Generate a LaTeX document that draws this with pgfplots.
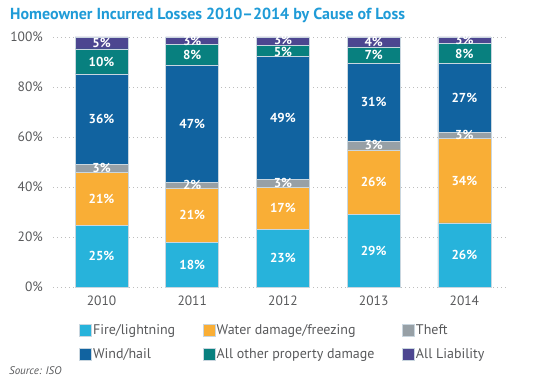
\documentclass[border=0pt]{standalone}
\usepackage{fontspec}
\setmainfont{PT Sans}
\usepackage{pgfplots}
\usepackage{pgfplotstable}
\pgfplotsset{compat=1.18}

\definecolor{cfire}{HTML}{27B3DB}
\definecolor{cwater}{HTML}{F9AE36}
\definecolor{ctheft}{HTML}{97A0A6}
\definecolor{cwind}{HTML}{1163A0}
\definecolor{cother}{HTML}{08807F}
\definecolor{cliab}{HTML}{4C4690}
\definecolor{ctitle}{HTML}{1F9BD7}
\definecolor{ctext}{HTML}{58595B}
\definecolor{cbarline}{HTML}{C9D6DF}
\definecolor{cgrid}{HTML}{BDBDBD}

\pgfplotstableread{
x fire water theft wind other liab
0 24.7 21.3 3.2 36.0 10.0 4.8
1 18.0 21.7 2.3 46.8 8.2 3.0
2 23.0 17.0 3.1 49.0 4.5 3.4
3 29.0 25.9 3.5 30.9 6.7 4.0
4 25.7 33.8 2.4 27.5 7.9 2.7
}\losses

\pgfplotstableread{
x y v
0 12.35 25
0 35.35 21
0 47.6 3
0 67.2 36
0 90.2 10
0 97.6 5
1 9.0 18
1 28.85 21
1 40.85 2
1 65.4 47
1 92.9 8
1 98.5 3
2 11.5 23
2 31.5 17
2 41.55 3
2 67.6 49
2 93.9 5
2 98.9 3
3 14.5 29
3 41.95 26
3 56.65 3
3 73.85 31
3 92.65 7
3 98.0 4
4 12.85 26
4 42.6 34
4 60.7 3
4 75.65 27
4 93.2 8
4 98.65 3
}\labels

\begin{document}
\begin{tikzpicture}
\path[use as bounding box] (-53pt,-99pt) rectangle (486pt,287pt);
\node[anchor=base west, inner sep=0pt, text=ctitle, font=\fontsize{16}{18}\selectfont\bfseries] at (-43pt,267pt) {Homeowner Incurred Losses 2010–2014 by Cause of Loss};
\begin{axis}[
  at={(0pt,0pt)}, anchor=south west,
  scale only axis, width=454pt, height=250pt,
  ybar stacked, bar width=53pt,
  xmin=-0.535, xmax=4.47, ymin=0, ymax=100,
  xtick={0,1,2,3,4}, xticklabels={2010,2011,2012,2013,2014},
  ytick={0,20,40,60,80,100}, yticklabel={\pgfmathprintnumber{\tick}\%},
  /pgf/number format/assume math mode=true,
  ymajorgrids, grid style={cgrid, line width=0.6pt, dash pattern=on 1pt off 3pt},
  axis line style={draw=none}, tick style={draw=none}, major tick length=0pt,
  ticklabel style={font=\fontsize{13.5}{15}\selectfont, text=ctext},
  yticklabel style={inner sep=0pt, xshift=-10pt},
  xticklabel style={inner sep=0pt, yshift=-9pt},
  every axis plot/.append style={draw=cbarline, line width=0.5pt},
  legend columns=3,
  legend image code/.code={\fill[#1] (0pt,-6pt) rectangle (12pt,6pt);},
  legend style={at={(0.057,-0.145)}, anchor=north west, draw=none, fill=none,
    font=\fontsize{14}{16}\selectfont, text=ctext, inner sep=0pt,
    nodes={inner sep=1.5pt}, row sep=9pt,
    /tikz/every even column/.append style={column sep=26pt}},
  legend cell align=left,
]
\addplot[fill=cfire] table[x=x,y=fire]{\losses};
\addplot[fill=cwater] table[x=x,y=water]{\losses};
\addplot[fill=ctheft] table[x=x,y=theft]{\losses};
\addplot[fill=cwind] table[x=x,y=wind]{\losses};
\addplot[fill=cother] table[x=x,y=other]{\losses};
\addplot[fill=cliab] table[x=x,y=liab]{\losses};
\legend{Fire/lightning, Water damage/freezing, Theft, Wind/hail, All other property damage, All Liability}
\end{axis}
\begin{axis}[
  at={(0pt,0pt)}, anchor=south west,
  scale only axis, width=454pt, height=250pt,
  xmin=-0.535, xmax=4.47, ymin=0, ymax=100,
  hide axis,
  /pgf/number format/assume math mode=true,
]
\addplot[draw=none, mark=none, nodes near coords={\pgfmathprintnumber[fixed,precision=0,assume math mode=true]{\pgfplotspointmeta}\%},
  point meta=explicit,
  every node near coord/.append style={anchor=center, text=white, inner sep=0pt,
    font=\fontsize{13}{15}\selectfont\bfseries}]
  table[x=x,y=y,meta=v]{\labels};
\end{axis}
\node[anchor=base west, inner sep=0pt, text=ctext, font=\fontsize{11}{13}\selectfont\itshape] at (-44pt,-87pt) {Source: ISO};
\end{tikzpicture}
\end{document}
